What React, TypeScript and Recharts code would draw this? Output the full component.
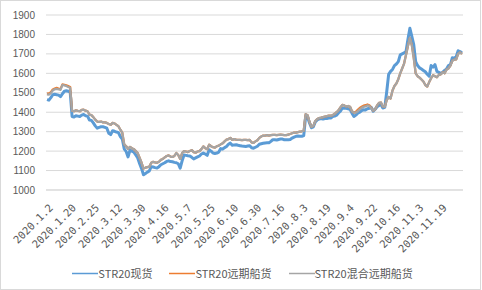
import React from 'react';
import { LineChart, Line, XAxis, YAxis, CartesianGrid, Legend } from 'recharts';

const tickLabels = [
  '2020.1.2', '2020.1.20', '2020.2.25', '2020.3.12', '2020.3.30', '2020.4.16',
  '2020.5.7', '2020.5.25', '2020.6.10', '2020.6.30', '2020.7.16', '2020.8.3',
  '2020.8.19', '2020.9.4', '2020.9.22', '2020.10.16', '2020.11.3', '2020.11.19',
];

const seriesNames = ['STR20现货', 'STR20远期船货', 'STR20混合远期船货'];
const seriesColors = ['#5B9BD5', '#ED7D31', '#A5A5A5'];

const spot = [
  1465, 1462, 1475, 1490, 1492, 1490, 1488, 1480, 1495, 1508,
  1510, 1508, 1505, 1378, 1375, 1382, 1380, 1378, 1385, 1388,
  1382, 1380, 1360, 1358, 1345, 1330, 1318, 1322, 1325, 1325,
  1322, 1318, 1292, 1285, 1305, 1302, 1298, 1295, 1275, 1262,
  1212, 1198, 1170, 1205, 1200, 1195, 1180, 1165, 1135, 1110,
  1078, 1085, 1092, 1098, 1120, 1118, 1115, 1113, 1120, 1130,
  1135, 1140, 1147, 1150, 1146, 1145, 1142, 1140, 1135, 1112,
  1150, 1180, 1178, 1176, 1175, 1168, 1160, 1165, 1170, 1175,
  1185, 1190, 1185, 1178, 1207, 1200, 1190, 1188, 1190, 1195,
  1213, 1210, 1218, 1224, 1235, 1241, 1230, 1232, 1233, 1230,
  1228, 1226, 1225, 1224, 1226, 1228, 1217, 1215, 1220, 1225,
  1235, 1238, 1240, 1242, 1243, 1243, 1250, 1259, 1258, 1257,
  1260, 1262, 1262, 1258, 1258, 1258, 1260, 1267, 1272, 1276,
  1278, 1276, 1276, 1280, 1378, 1375, 1345, 1320, 1325, 1350,
  1360, 1365, 1368, 1365, 1368, 1368, 1370, 1370, 1378, 1380,
  1385, 1396, 1405, 1422, 1420, 1420, 1418, 1415, 1395, 1378,
  1385, 1395, 1400, 1408, 1413, 1412, 1418, 1420, 1425, 1405,
  1415, 1428, 1435, 1440, 1422, 1425, 1505, 1595, 1610, 1620,
  1640, 1648, 1660, 1695, 1700, 1705, 1712, 1775, 1832, 1790,
  1748, 1660, 1640, 1628, 1622, 1615, 1608, 1595, 1585, 1640,
  1632, 1645, 1610, 1605, 1600, 1605, 1615, 1622, 1640, 1645,
  1680, 1678, 1685, 1716, 1712, 1705,
];

const forward = [
  1497, 1495, 1503, 1517, 1522, 1525, 1522, 1520, 1543, 1541,
  1538, 1534, 1530, 1408, 1405, 1410, 1407, 1405, 1412, 1413,
  1408, 1405, 1388, 1385, 1375, 1362, 1352, 1350, 1352, 1348,
  1348, 1345, 1340, 1335, 1345, 1342, 1335, 1328, 1310, 1295,
  1235, 1225, 1212, 1222, 1215, 1210, 1200, 1190, 1165, 1140,
  1110, 1115, 1118, 1120, 1140, 1145, 1142, 1140, 1145, 1155,
  1160, 1168, 1175, 1178, 1172, 1170, 1175, 1190, 1180, 1160,
  1190, 1200, 1198, 1195, 1200, 1205, 1195, 1192, 1198, 1200,
  1210, 1224, 1215, 1210, 1233, 1225, 1220, 1218, 1225, 1228,
  1235, 1240, 1250, 1259, 1262, 1268, 1258, 1262, 1259, 1258,
  1258, 1256, 1258, 1258, 1256, 1258, 1245, 1242, 1250, 1256,
  1268, 1275, 1280, 1280, 1282, 1280, 1282, 1284, 1284, 1282,
  1284, 1285, 1284, 1282, 1282, 1285, 1288, 1292, 1295, 1295,
  1298, 1300, 1302, 1305, 1390, 1385, 1350, 1325, 1330, 1355,
  1365, 1370, 1372, 1375, 1378, 1380, 1382, 1382, 1385, 1392,
  1400, 1410, 1425, 1438, 1435, 1430, 1432, 1428, 1405, 1398,
  1402, 1412, 1422, 1428, 1434, 1436, 1440, 1436, 1422, 1408,
  1415, 1435, 1448, 1450, 1430, 1428, 1462, 1478, 1470, 1512,
  1535, 1548, 1570, 1600, 1625, 1650, 1695, 1740, 1782, 1745,
  1680, 1600, 1585, 1578, 1568, 1558, 1540, 1532, 1555, 1575,
  1590, 1585, 1580, 1592, 1595, 1605, 1600, 1620, 1625, 1640,
  1665, 1670, 1672, 1700, 1708, 1700,
];

const mixed = [
  1492, 1490, 1498, 1512, 1518, 1520, 1518, 1515, 1540, 1538,
  1535, 1530, 1526, 1408, 1405, 1410, 1407, 1405, 1412, 1413,
  1408, 1405, 1388, 1385, 1375, 1362, 1352, 1350, 1352, 1348,
  1348, 1345, 1340, 1335, 1345, 1342, 1335, 1328, 1310, 1295,
  1235, 1225, 1212, 1222, 1215, 1210, 1200, 1190, 1165, 1140,
  1110, 1115, 1118, 1120, 1140, 1145, 1142, 1140, 1145, 1155,
  1160, 1168, 1175, 1178, 1172, 1170, 1175, 1190, 1180, 1160,
  1190, 1200, 1198, 1195, 1200, 1205, 1195, 1192, 1198, 1200,
  1210, 1224, 1215, 1210, 1233, 1225, 1220, 1218, 1225, 1228,
  1235, 1240, 1250, 1259, 1262, 1268, 1258, 1262, 1259, 1258,
  1258, 1256, 1258, 1258, 1256, 1258, 1245, 1242, 1250, 1256,
  1268, 1275, 1280, 1280, 1282, 1280, 1282, 1284, 1284, 1282,
  1284, 1285, 1284, 1282, 1282, 1285, 1288, 1292, 1295, 1295,
  1298, 1300, 1302, 1305, 1390, 1385, 1350, 1325, 1330, 1355,
  1365, 1370, 1372, 1375, 1378, 1380, 1382, 1382, 1385, 1392,
  1400, 1410, 1425, 1438, 1435, 1430, 1432, 1428, 1405, 1398,
  1398, 1405, 1415, 1422, 1428, 1430, 1435, 1432, 1420, 1408,
  1415, 1435, 1448, 1450, 1430, 1428, 1462, 1478, 1470, 1512,
  1535, 1548, 1570, 1600, 1625, 1650, 1695, 1740, 1782, 1745,
  1680, 1600, 1585, 1578, 1568, 1558, 1540, 1532, 1555, 1575,
  1590, 1585, 1580, 1592, 1595, 1605, 1600, 1620, 1625, 1640,
  1665, 1670, 1672, 1700, 1708, 1700,
];

const yTicks = [1000, 1100, 1200, 1300, 1400, 1500, 1600, 1700, 1800, 1900];
const TICK_EVERY = 12;

const data = spot.map((v, i) => ({ idx: i, spot: v, forward: forward[i], mixed: mixed[i] }));

const XTick = (props: any) => {
  const { x, y, payload } = props;
  const label = tickLabels[Math.round(payload.value / TICK_EVERY)];
  if (!label) return null;
  return (
    <g transform={`translate(${x + 4},${y + 16})`}>
      <text
        textAnchor="end"
        dy="0.35em"
        transform="rotate(-45)"
        fontSize={10.5}
        fontFamily="'DejaVu Sans Mono', monospace"
        fill="#595959"
      >
        {label}
      </text>
    </g>
  );
};

const LegendContent = () => {
  return (
    <div
      style={{
        display: 'flex',
        justifyContent: 'center',
        alignItems: 'flex-start',
        height: 28,
        paddingTop: 4,
        paddingLeft: 3,
        boxSizing: 'border-box',
        fontFamily: "'Noto Sans CJK SC', sans-serif",
        fontSize: 11,
        lineHeight: '14px',
        color: '#595959',
      }}
    >
      {seriesNames.map((name, k) => (
        <div key={k} style={{ display: 'flex', alignItems: 'center', marginLeft: k ? 17 : 0 }}>
          <svg width={26} height={14} style={{ display: 'block' }}>
            <line x1={0} x2={26} y1={7.5} y2={7.5} stroke={seriesColors[k]} strokeWidth={1.5} />
          </svg>
          <span style={{ whiteSpace: 'nowrap' }}>{name}</span>
        </div>
      ))}
    </div>
  );
};

export default function App() {
  return (
    <div style={{ position: 'absolute', left: 0, top: 0, width: 482, height: 290, background: '#fff' }}>
      <LineChart
        width={482}
        height={290}
        data={data}
        margin={{ top: 15, right: 19, bottom: 0, left: 0 }}
      >
        <CartesianGrid vertical={false} stroke="#D9D9D9" strokeWidth={1} />
        <XAxis
          dataKey="idx"
          type="category"
          interval={TICK_EVERY - 1}
          tick={<XTick />}
          tickLine={false}
          tickSize={0}
          tickMargin={0}
          height={72}
          padding={{ left: 1, right: 1 }}
          axisLine={{ stroke: '#D9D9D9' }}
        />
        <YAxis
          type="number"
          domain={[1000, 1900]}
          ticks={yTicks}
          interval={0}
          width={46}
          axisLine={false}
          tickLine={false}
          tickSize={0}
          tickMargin={11}
          tick={{ fill: '#595959', fontSize: 10, fontFamily: "'Liberation Sans', Arial, sans-serif" }}
        />
        <Legend
          verticalAlign="bottom"
          height={28}
          content={<LegendContent />}
          wrapperStyle={{ left: 0, width: 482, bottom: 0, height: 28 }}
        />
        <Line
          type="linear"
          dataKey="spot"
          name={seriesNames[0]}
          stroke={seriesColors[0]}
          strokeWidth={3}
          dot={false}
          activeDot={false}
          strokeLinejoin="round"
          isAnimationActive={false}
        />
        <Line
          type="linear"
          dataKey="forward"
          name={seriesNames[1]}
          stroke={seriesColors[1]}
          strokeWidth={2.25}
          dot={false}
          activeDot={false}
          strokeLinejoin="round"
          isAnimationActive={false}
        />
        <Line
          type="linear"
          dataKey="mixed"
          name={seriesNames[2]}
          stroke={seriesColors[2]}
          strokeWidth={2.25}
          dot={false}
          activeDot={false}
          strokeLinejoin="round"
          isAnimationActive={false}
        />
      </LineChart>
      <div
        style={{
          position: 'absolute',
          left: 0,
          top: 0,
          width: 481,
          height: 290,
          boxSizing: 'border-box',
          border: '1px solid #D9D9D9',
          pointerEvents: 'none',
        }}
      />
    </div>
  );
}
